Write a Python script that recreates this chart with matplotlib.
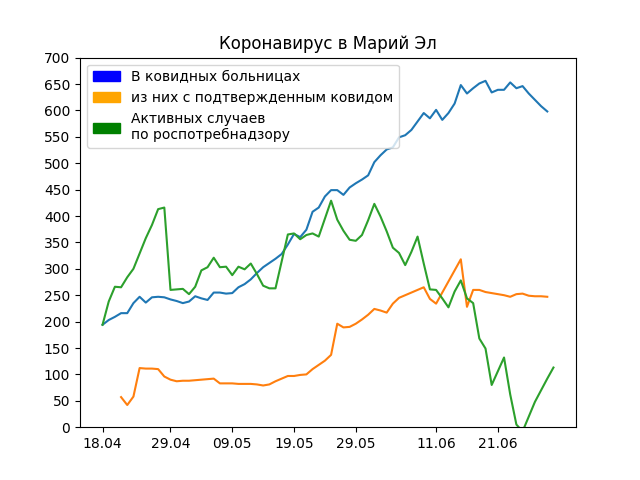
import numpy as np
import pandas as pd
import matplotlib
matplotlib.use('Agg')
import matplotlib.pyplot as plt
import matplotlib.patches as mpatches

nan = np.nan

# даты: с 18.04.2020, один отсчёт в день
dates = pd.date_range('2020-04-18', periods=74, freq='D')

# в ковидных больницах
hospital = [194, 203, 209, 216, 216, 235, 247, 236, 246, 247,
            246, 242, 239, 235, 238, 248, 244, 241, 255, 255,
            253, 254, 265, 271, 280, 292, 303, 311, 319, 328,
            346, 366, 360, 374, 408, 416, 437, 449, 449, 440,
            454, 462, 469, 477, 502, 515, 526, 530, 549, 553,
            563, 579, 595, 585, 601, 582, 595, 613, 648, 632,
            642, 651, 656, 634, 639, 639, 653, 642, 646, 632,
            620, 608, 598, nan]

# из них с подтвержденным ковидом
confirmed = [nan, nan, nan, 57, 42, 58, 112, 111, 111, 110,
             96, 90, 87, 88, 88, 89, 90, 91, 92, 83,
             83, 83, 82, 82, 82, 81, 79, 81, 87, 92,
             97, 97, 99, 100, 110, 118, 126, 137, 196, 189,
             190, 196, 204, 213, 224, 221, 217, 234, 245, 250,
             255, 260, 265, 243, 234, nan, nan, nan, 318, 228,
             260, 260, 256, 254, 252, 250, 247, 252, 253, 249,
             248, 248, 247, nan]

# активных случаев по роспотребнадзору
active = [194, 238, 266, 265, 284, 300, 329, 358, 383, 413,
          416, 260, 261, 262, 252, 266, 297, 303, 321, 303,
          304, 288, 304, 299, 310, 290, 268, 263, 263, nan,
          365, 367, 356, 364, 367, 361, 395, 429, 393, 372,
          355, 353, 364, 392, 423, 399, 371, 340, 330, 307,
          332, 361, 310, 261, 260, 244, 227, 257, 278, 244,
          235, 168, 149, 80, 106, 132, 62, 5, -8, 20,
          48, 70, 92, 113]

tick_labels = ['18.04', '29.04', '09.05', '19.05', '29.05', '11.06', '21.06']
legend_labels = ['В ковидных больницах',
                 'из них с подтвержденным ковидом',
                 'Активных случаев\nпо роспотребнадзору']

fig, ax = plt.subplots(figsize=(6.4, 4.8), dpi=100)

# пропущенные дни просто соединяем линией
for series in [hospital, confirmed, active]:
    y = np.array(series, dtype=float)
    ok = ~np.isnan(y)
    ax.plot(dates[ok], y[ok])

ticks = pd.to_datetime([t + '.2020' for t in tick_labels], format='%d.%m.%Y')
ax.set_xticks(ticks)
ax.set_xticklabels(tick_labels)
ax.set_ylim(0, 700)
ax.set_yticks(range(0, 701, 50))
ax.set_title('Коронавирус в Марий Эл')

handles = [mpatches.Patch(color=c, label=l)
           for c, l in zip(['blue', 'orange', 'green'], legend_labels)]
ax.legend(handles=handles, loc='upper left')

plt.savefig('out.png')
